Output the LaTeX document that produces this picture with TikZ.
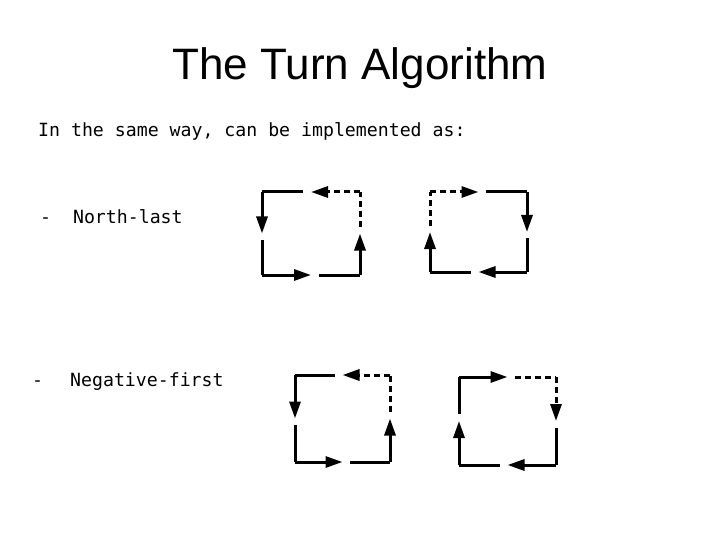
\documentclass[tikz,border=0pt]{standalone}
\usepackage{fontspec}
\setmainfont{Liberation Sans}
\setmonofont{DejaVu Sans Mono}
\usetikzlibrary{arrows.meta,calc}
\begin{document}
\begin{tikzpicture}[x=1pt,y=-1pt,
	edge/.style={line width=3pt},
	head/.style={edge,-{Triangle[length=17pt,width=11pt]}},
	gapped/.style={dash pattern=on 6pt off 4pt},
	txt/.style={anchor=base west,inner sep=0pt,font=\ttfamily\fontsize{18.2}{20}\selectfont}]
	\useasboundingbox (0,0) rectangle (720,540);
	\node (title) at (360,68) [font=\fontsize{44}{48}\selectfont] {The Turn Algorithm};
	\node (intro) at (38,137) [txt] {In the same way, can be implemented as:};
	\node (nl) at (40,224) [txt] {-\ \ North-last};
	\node (dash) at (32,386) [txt] {-};
	\node (nf) at (70,386) [txt] {Negative-first};
	% corners of the four turn squares
	\foreach \s/\l/\t/\r/\b in {a/262/192/360/275,b/430/192/527/272,c/295/375/390/462,d/459/377/556/465}{
		\coordinate (\s nw) at (\l,\t);
		\coordinate (\s ne) at (\r,\t);
		\coordinate (\s se) at (\r,\b);
		\coordinate (\s sw) at (\l,\b);
	}
	% each side: first half with arrow, gap, second half
	\foreach \p/\q/\sa/\sb in {ane/anw/gapped/solid,anw/asw/solid/solid,asw/ase/solid/solid,ase/ane/solid/gapped,
		bsw/bnw/solid/gapped,bnw/bne/gapped/solid,bne/bse/solid/solid,bse/bsw/solid/solid,
		cne/cnw/gapped/solid,cnw/csw/solid/solid,csw/cse/solid/solid,cse/cne/solid/gapped,
		dsw/dnw/solid/solid,dnw/dne/solid/gapped,dne/dse/gapped/solid,dse/dsw/solid/solid}{
		\draw [head,\sa] (\p) -- ($(\p)!0.5!(\q)$);
		\draw [edge,\sb] ($(\p)!0.58!(\q)$) -- (\q);
	}
\end{tikzpicture}
\end{document}
